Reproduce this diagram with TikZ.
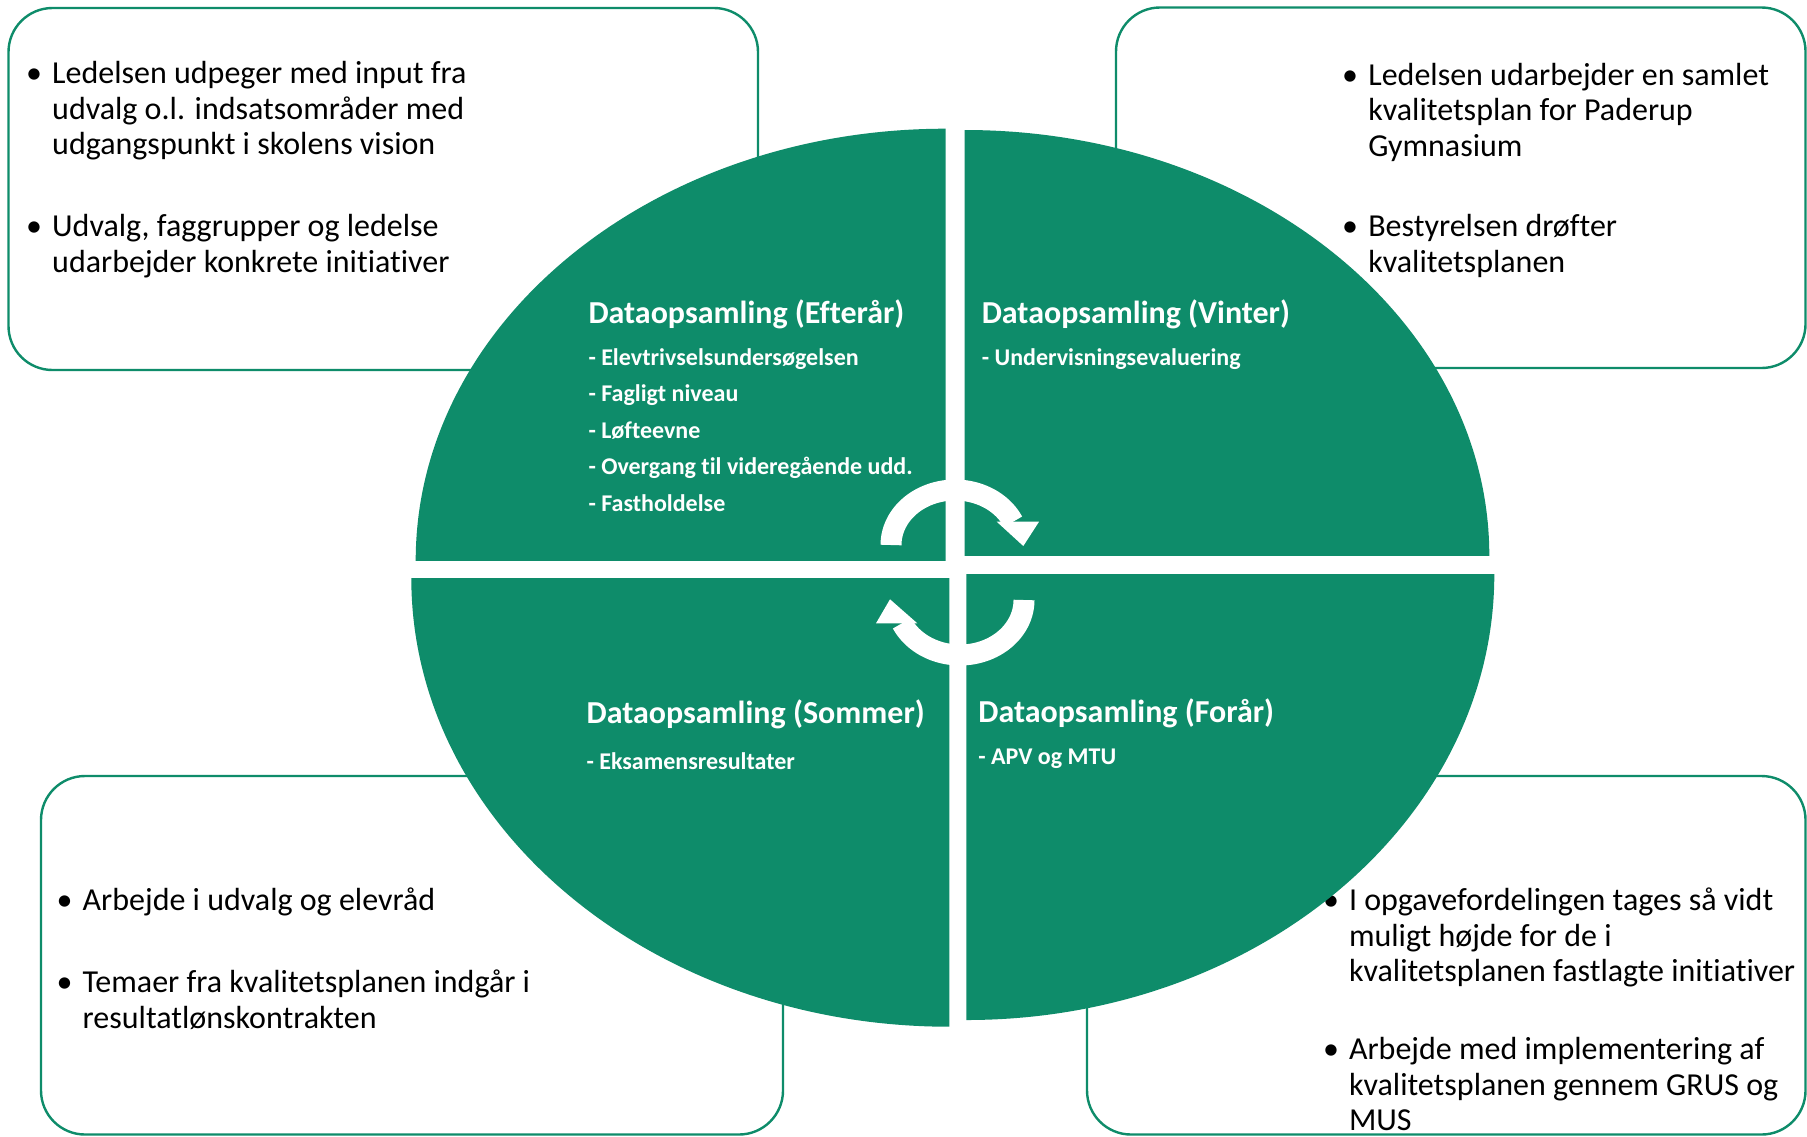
\documentclass[tikz,border=0pt]{standalone}
\usepackage{fontspec}
\setmainfont{Carlito}[Ligatures={NoCommon,NoRequired,NoContextual}]
\definecolor{qgreen}{RGB}{14,140,106}
\newcommand{\LL}[1]{\hbox{\strut #1}}
\begin{document}
\begin{tikzpicture}[x=0.5pt,y=-0.5pt,
  box/.style={draw=qgreen, line width=1.2pt, rounded corners=22pt},
  quad/.style={fill=qgreen},
  btxt/.style={anchor=base west, inner sep=0pt, outer sep=0pt, text=black, font=\fontsize{16}{17.85}\selectfont},
  bul/.style={anchor=base west, inner sep=0pt, outer sep=0pt, text=black, font=\fontsize{16}{17.85}\selectfont},
  ttl/.style={anchor=base west, inner sep=0pt, outer sep=0pt, text=white, font=\fontsize{16}{19}\selectfont\bfseries},
  sub/.style={anchor=base west, inner sep=0pt, outer sep=0pt, text=white, font=\fontsize{12}{18.25}\selectfont\bfseries},
  arr/.style={draw=white, line width=10.5pt}
]
\fill[white] (0,0) rectangle (1807,1136);
\useasboundingbox (0,0) rectangle (1807,1136);

% boxes
\draw[box] (8.5,8) rectangle (758,370);
\draw[box] (1116,7.5) rectangle (1805.5,368);
\draw[box] (41,776) rectangle (783,1134.5);
\draw[box] (1087,776) rectangle (1805.5,1134.5);

% box texts
\node[bul] (tlb1) at (26,83.3) {•};
\node[btxt] (tlp1) at (52.2,83.3) {\vtop{\hbox{Ledelsen udpeger med input fra}\hbox{udvalg o.l. indsatsområder med}\hbox{udgangspunkt i skolens vision}}};
\node[bul] (tlb2) at (26,236.7) {•};
\node[btxt] (tlp2) at (52.2,236.7) {\vtop{\hbox{Udvalg, faggrupper og ledelse}\hbox{udarbejder konkrete initiativer}}};

\node[bul] (trb1) at (1342,85) {•};
\node[btxt] (trp1) at (1368.3,85) {\vtop{\hbox{Ledelsen udarbejder en samlet}\hbox{kvalitetsplan for Paderup}\hbox{Gymnasium}}};
\node[bul] (trb2) at (1342,236.5) {•};
\node[btxt] (trp2) at (1368.3,236.5) {\vtop{\hbox{Bestyrelsen drøfter}\hbox{kvalitetsplanen}}};

\node[bul] (blb1) at (56.5,910) {•};
\node[btxt] (blp1) at (82.7,910) {Arbejde i udvalg og elevråd};
\node[bul] (blb2) at (56.5,992.5) {•};
\node[btxt] (blp2) at (82.7,992.5) {\vtop{\hbox{Temaer fra kvalitetsplanen indgår i}\hbox{resultatlønskontrakten}}};

\node[bul] (brb1) at (1323,910.5) {•};
\node[btxt] (brp1) at (1349,910.5) {\vtop{\hbox{I opgavefordelingen tages så vidt}\hbox{muligt højde for de i}\hbox{kvalitetsplanen fastlagte initiativer}}};
\node[bul] (brb2) at (1323,1059.5) {•};
\node[btxt] (brp2) at (1349,1059.5) {\vtop{\hbox{Arbejde med implementering af}\hbox{kvalitetsplanen gennem GRUS og}\hbox{MUS}}};

% quadrants
\begin{scope}
  \clip (400,100) rectangle (945.7,560.7);
  \fill[quad] (945.7,560.7) ellipse [x radius=530, y radius=432];
\end{scope}
\begin{scope}
  \clip (964.7,100) rectangle (1510,555.7);
  \fill[quad] (964.7,555.7) ellipse [x radius=524.6, y radius=425.7];
\end{scope}
\begin{scope}
  \clip (400,578) rectangle (949.3,1040);
  \fill[quad] (949.3,578) ellipse [x radius=538, y radius=448.7];
\end{scope}
\begin{scope}
  \clip (966.3,574.3) rectangle (1510,1040);
  \fill[quad] (966.3,574.3) ellipse [x radius=528, y radius=445.7];
\end{scope}

% quadrant texts
\node[ttl] (t1) at (588.5,323) {Dataopsamling (Efterår)};
\node[sub] (s1) at (588.5,365) {\vtop{\hbox{- Elevtrivselsundersøgelsen}\hbox{- Fagligt niveau}\hbox{- Løfteevne}\hbox{- Overgang til videregående udd.}\hbox{- Fastholdelse}}};
\node[ttl] (t2) at (981.8,323) {Dataopsamling (Vinter)};
\node[sub] (s2) at (981.8,365) {- Undervisningsevaluering};
\node[ttl] (t3) at (586.6,723) {Dataopsamling (Sommer)};
\node[sub] (s3) at (586.6,769.5) {- Eksamensresultater};
\node[ttl] (t4) at (978.4,722) {Dataopsamling (Forår)};
\node[sub] (s4) at (978.4,764) {- APV og MTU};

% circular arrows
\draw[arr] plot[domain=180:25, samples=60] ({955+64*cos(\x)},{545-55*sin(\x)});
\fill[white] (996.7,521.7) -- (1039,521.7) -- (1023.3,546) -- cycle;
\draw[arr] plot[domain=0:-155, samples=60] ({960+64*cos(\x)},{600-55*sin(\x)});
\fill[white] (876,623.3) -- (917.3,623.3) -- (890,599.3) -- cycle;
\end{tikzpicture}
\end{document}
